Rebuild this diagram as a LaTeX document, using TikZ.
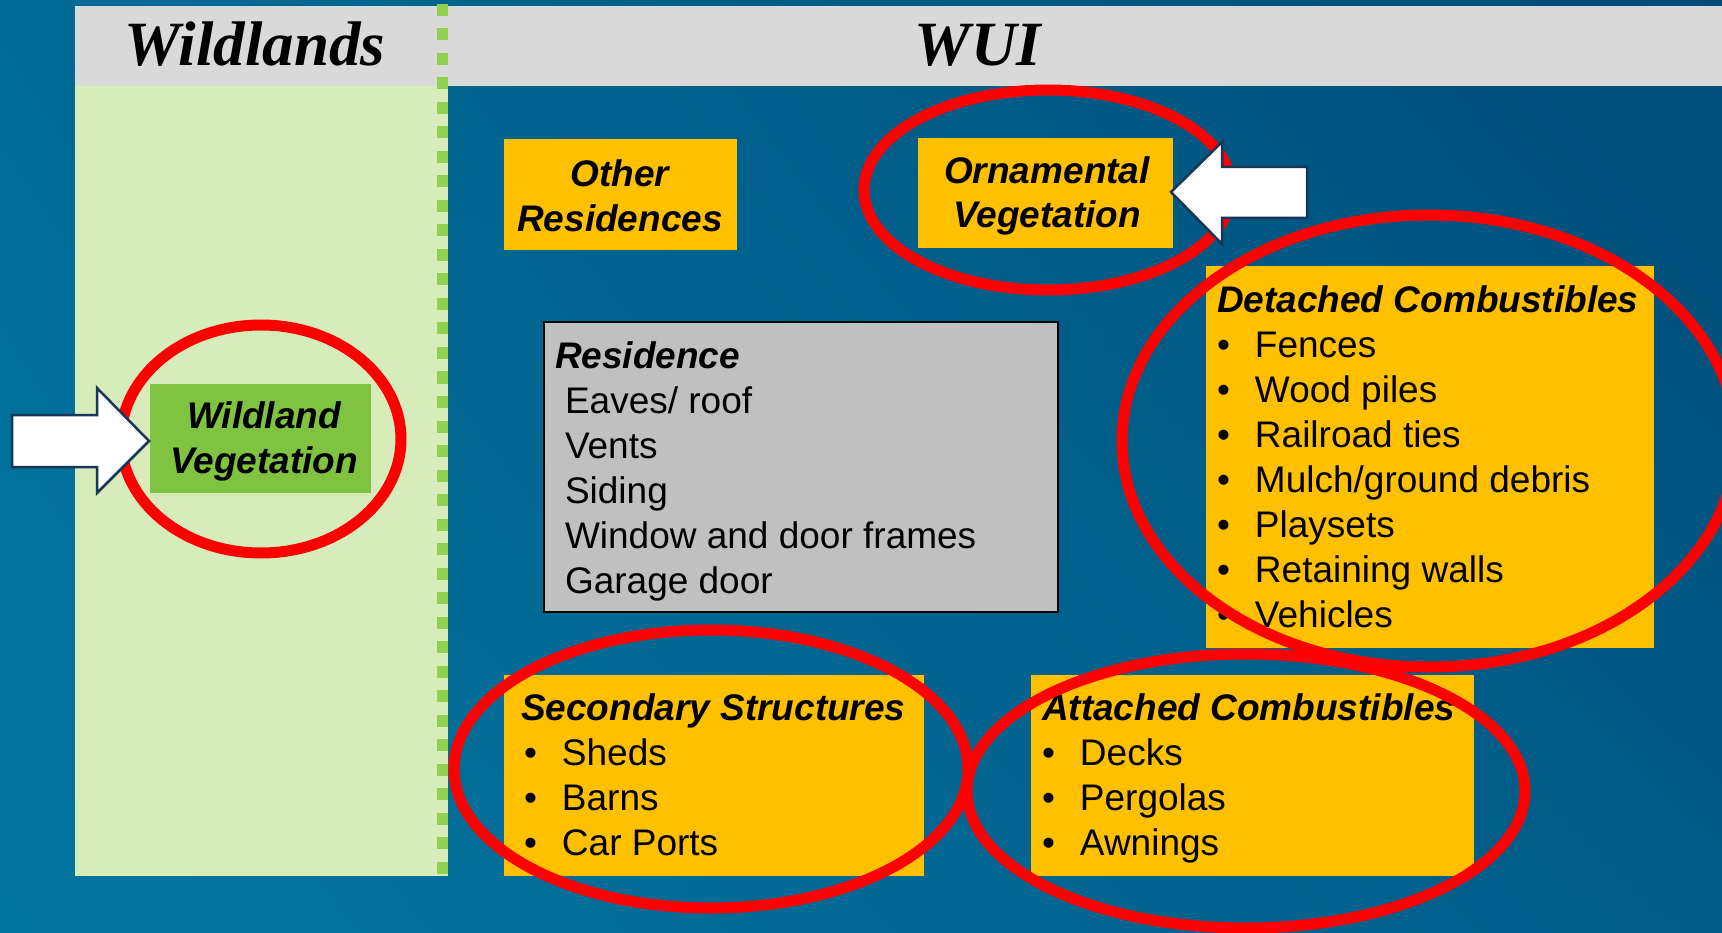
\documentclass[tikz,border=0pt]{standalone}
\usepackage{fontspec}
\usetikzlibrary{shadings}
\setmainfont{Liberation Sans}
\newfontfamily\headfont{Liberation Serif}
\definecolor{bgUL}{RGB}{0,108,150}
\definecolor{bgLL}{RGB}{3,118,160}
\definecolor{bgUR}{RGB}{0,76,120}
\definecolor{bgLR}{RGB}{0,92,135}
\definecolor{headgray}{RGB}{217,217,217}
\definecolor{lightgreen}{RGB}{214,236,187}
\definecolor{dashgreen}{RGB}{146,208,80}
\definecolor{vegreen}{RGB}{128,195,65}
\definecolor{boxorange}{RGB}{255,192,0}
\definecolor{resgray}{RGB}{192,192,192}
\definecolor{ringred}{RGB}{255,0,0}
\definecolor{arrownavy}{RGB}{24,54,88}
\newcommand\bitem[1]{\makebox[38pt][l]{\textbullet}#1}
\begin{document}
\begin{tikzpicture}[x=1pt,y=-1pt,
  fillbox/.style={anchor=north west, inner sep=0pt, outer sep=0pt},
  orangebox/.style={fillbox, fill=boxorange},
  txt/.style={inner sep=0pt, outer sep=0pt, font=\fontsize{37}{45}\selectfont},
  ttl/.style={txt, font=\fontsize{37}{45}\selectfont\bfseries\itshape},
  headtxt/.style={inner sep=0pt, anchor=base, font=\headfont\fontsize{63}{70}\selectfont\bfseries\itshape},
  ring/.style={draw=ringred, line width=11pt},
  blockarrow/.style={fill=white, draw=arrownavy, line width=2.5pt, line join=miter},
  greendash/.style={draw=dashgreen, line width=11pt, dash pattern=on 12pt off 12.5pt}
]
\useasboundingbox (0,0) rectangle (1722,933);
\shade[upper left=bgUL, lower left=bgLL, upper right=bgUR, lower right=bgLR] (0,0) rectangle (1722,933);
% header and wildlands column
\fill[headgray] (75,6) rectangle (1722,86);
\fill[lightgreen] (75,86) rectangle (448,876);
\draw[greendash] (442,4) -- (442,876);
\node[headtxt] (wildlands) at (255,66) {Wildlands};
\node[headtxt] (wui) at (978,66) {WUI};
% boxes
\node[orangebox, minimum width=233pt, minimum height=111pt] (otherbox) at (504,139) {};
\node[orangebox, minimum width=255pt, minimum height=110pt] (ornbox) at (918,138) {};
\node[fillbox, fill=resgray, draw=black, line width=2pt, minimum width=514pt, minimum height=290pt] (resbox) at (544,322) {};
\node[fillbox, fill=vegreen, minimum width=221pt, minimum height=109pt] (wvbox) at (150,384) {};
\node[orangebox, minimum width=448pt, minimum height=382pt] (detbox) at (1206,266) {};
\node[orangebox, minimum width=420pt, minimum height=201pt] (secbox) at (504,675) {};
\node[orangebox, minimum width=443pt, minimum height=201pt] (attbox) at (1031,675) {};
% texts
\node[ttl, anchor=north, align=center] (othertxt) at (620,160) {Other\\Residences};
\node[ttl, anchor=north, align=center, font=\fontsize{37}{44}\selectfont\bfseries\itshape] (orntxt) at (1047,157) {Ornamental\\Vegetation};
\node[ttl, anchor=north, align=center] (wvtxt) at (264,402) {Wildland\\Vegetation};
\node[txt, anchor=north west, align=left] (restxt) at (555,341.5) {{\bfseries\itshape Residence}\\
\hspace*{10pt}Eaves/ roof\\ \hspace*{10pt}Vents\\ \hspace*{10pt}Siding\\
\hspace*{10pt}Window and door frames\\ \hspace*{10pt}Garage door};
\node[txt, anchor=north west, align=left] (dettxt) at (1217,285.5) {{\bfseries\itshape Detached Combustibles}\\
\bitem{Fences}\\ \bitem{Wood piles}\\ \bitem{Railroad ties}\\ \bitem{Mulch/ground debris}\\
\bitem{Playsets}\\ \bitem{Retaining walls}\\ \bitem{Vehicles}};
\node[txt, anchor=north west, align=left] (sectxt) at (521,694) {{\bfseries\itshape Secondary Structures}\\
\hspace*{3pt}\bitem{Sheds}\\ \hspace*{3pt}\bitem{Barns}\\ \hspace*{3pt}\bitem{Car Ports}};
\node[txt, anchor=north west, align=left] (atttxt) at (1042,694) {{\bfseries\itshape Attached Combustibles}\\
\bitem{Decks}\\ \bitem{Pergolas}\\ \bitem{Awnings}};
% red rings
\draw[ring] (261,439) ellipse [x radius=140, y radius=114];
\draw[ring] (1048,190) ellipse [x radius=184, y radius=100];
\draw[ring] (1429,441) ellipse [x radius=307, y radius=226];
\draw[ring] (711,769) ellipse [x radius=257, y radius=139];
\draw[ring] (1246,791) ellipse [x radius=279, y radius=137];
% block arrows
\draw[blockarrow] (12,415) -- (97,415) -- (97,388) -- (149,441) -- (97,493) -- (97,467) -- (12,467) -- cycle;
\draw[blockarrow] (1307,167) -- (1222,167) -- (1222,142) -- (1171,192) -- (1222,244) -- (1222,218) -- (1307,218) -- cycle;
\end{tikzpicture}
\end{document}
